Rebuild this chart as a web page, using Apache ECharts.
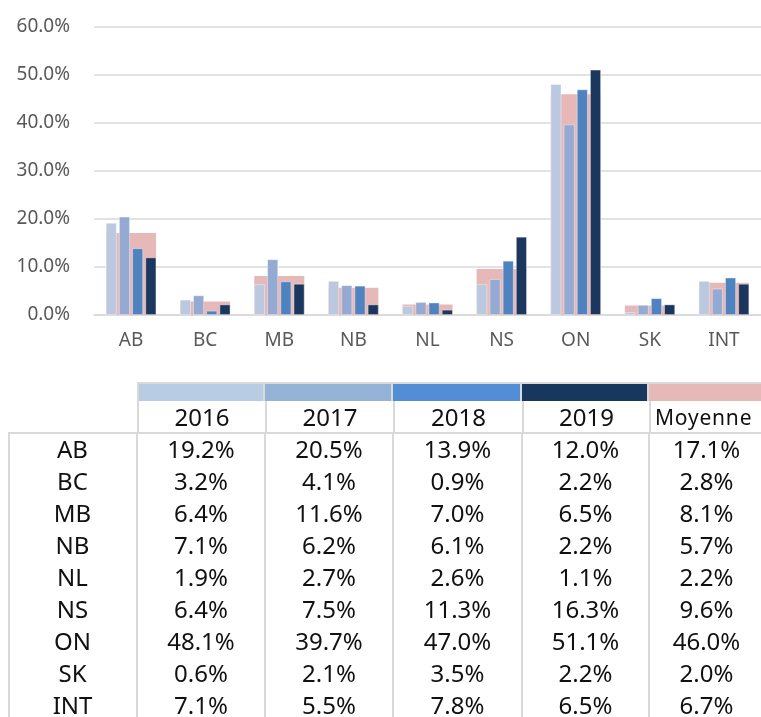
<!DOCTYPE html>
<html>
<head>
<meta charset="utf-8">
<script src="https://cdn.jsdelivr.net/npm/echarts@6/dist/echarts.min.js"></script>
<style>
  body { margin: 0; background: #fff; }
  #wrap { position: relative; width: 761px; height: 717px; overflow: hidden; }
  #chart { position: absolute; left: 0; top: 0; width: 761px; height: 370px; }
  #table { position: absolute; left: 0; top: 0; width: 761px; height: 717px; font-family: "Noto Sans", sans-serif; color: #111; }
  .cell { position: absolute; box-sizing: border-box; text-align: center; white-space: nowrap; }
</style>
</head>
<body>
<div id="wrap">
  <div id="chart"></div>
  <div id="table"></div>
</div>
<script>
// provinces
const categories = ["AB", "BC", "MB", "NB", "NL", "NS", "ON", "SK", "INT"];
const years = ["2016", "2017", "2018", "2019"];
const v2016 = [19.2, 3.2, 6.4, 7.1, 1.9, 6.4, 48.1, 0.6, 7.1];
const v2017 = [20.5, 4.1, 11.6, 6.2, 2.7, 7.5, 39.7, 2.1, 5.5];
const v2018 = [13.9, 0.9, 7.0, 6.1, 2.6, 11.3, 47.0, 3.5, 7.8];
const v2019 = [12.0, 2.2, 6.5, 2.2, 1.1, 16.3, 51.1, 2.2, 6.5];
const moyenne = [17.1, 2.8, 8.1, 5.7, 2.2, 9.6, 46.0, 2.0, 6.7];
const avgName = "Moyenne";

const yearColors = ["#BAC8E0", "#95AAD2", "#4F83C0", "#1B375D"];
const avgColor = "#E6B8B7";
const yearValues = [v2016, v2017, v2018, v2019];

const myChart = echarts.init(document.getElementById("chart"));

const yearSeries = years.map((y, i) => ({
  name: y,
  type: "bar",
  xAxisIndex: 0,
  data: yearValues[i],
  barWidth: 11,
  barGap: "20%",
  z: 3,
  itemStyle: { color: yearColors[i], borderColor: "rgba(255,255,255,0.5)", borderWidth: 0.8 }
}));

let option = {
  animation: false,
  grid: { left: 94, top: 27, width: 675, height: 288 },
  xAxis: [{
    type: "category",
    data: categories,
    axisLine: { lineStyle: { color: "#D9D9D9", width: 1.5 } },
    axisTick: { show: false },
    axisLabel: { color: "#595959", fontSize: 19, fontFamily: "Noto Sans", margin: 16 }
  }, {
    type: "category",
    data: categories,
    show: false
  }],
  yAxis: {
    type: "value",
    min: 0,
    max: 60,
    interval: 10,
    axisLine: { show: false },
    axisTick: { show: false },
    splitLine: { lineStyle: { color: "#D9D9D9", width: 1.5 } },
    axisLabel: {
      color: "#595959", fontSize: 19, fontFamily: "Noto Sans", margin: 24,
      formatter: v => v.toFixed(1) + "%"
    }
  },
  series: [{
    name: avgName,
    type: "bar",
    xAxisIndex: 1,
    data: moyenne,
    barWidth: 50,
    z: 1,
    itemStyle: { color: avgColor }
  }].concat(yearSeries)
};

myChart.setOption(option);

// data table under the chart
const tbl = document.getElementById("table");
const colX = [8, 137, 265, 393, 522, 649, 790];
const stripTop = 382, headTop = 401, bodyTop = 433, rowH = 32;
const lineColor = "#D9D9D9";
const heads = years.concat([avgName]);
const stripColors = ["#B8CCE4", "#95B3D7", "#538DD5", "#17375E", avgColor];
const cols = yearValues.concat([moyenne]);

function addDiv(x, y, w, h, css, text) {
  const d = document.createElement("div");
  d.className = "cell";
  d.style.left = x + "px"; d.style.top = y + "px";
  d.style.width = w + "px"; d.style.height = h + "px";
  Object.assign(d.style, css || {});
  if (text !== undefined) d.textContent = text;
  tbl.appendChild(d);
  return d;
}

heads.forEach((h, i) => {
  const x = colX[i + 1], w = colX[i + 2] - colX[i + 1];
  addDiv(x, stripTop, w, headTop - stripTop, { background: stripColors[i], borderRight: "2px solid " + lineColor, borderTop: "2px solid " + lineColor });
  const isAvg = i === heads.length - 1;
  addDiv(x, headTop, w, bodyTop - headTop, {
    borderLeft: "2px solid " + lineColor,
    fontSize: isAvg ? "21px" : "24px",
    letterSpacing: isAvg ? "0.8px" : "0",
    lineHeight: (bodyTop - headTop) + "px",
    textAlign: isAvg ? "left" : "center",
    paddingLeft: isAvg ? "4px" : "0"
  }, h);
});
addDiv(colX[1], stripTop, 2, bodyTop - stripTop, { background: lineColor });

// top line of body + left border
addDiv(colX[0], bodyTop - 1, 761 - colX[0], 2, { background: lineColor });
addDiv(colX[0], bodyTop, 2, 717 - bodyTop, { background: lineColor });
for (let i = 1; i <= 5; i++) {
  addDiv(colX[i] - 1, bodyTop, 2, 717 - bodyTop, { background: lineColor });
}

categories.forEach((c, r) => {
  const y = bodyTop + r * rowH;
  addDiv(colX[0], y, colX[1] - colX[0], rowH, { fontSize: "24px", lineHeight: rowH + "px" }, c);
  cols.forEach((arr, i) => {
    addDiv(colX[i + 1], y, colX[i + 2] - colX[i + 1] - (i === 4 ? 26 : 0), rowH, { fontSize: "24px", lineHeight: rowH + "px" }, arr[r].toFixed(1) + "%");
  });
});
</script>
</body>
</html>
